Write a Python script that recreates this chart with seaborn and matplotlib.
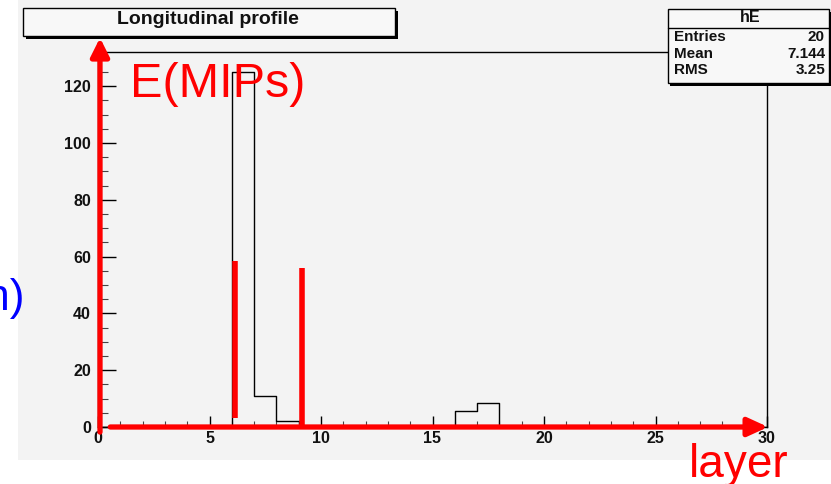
import matplotlib
matplotlib.use("Agg")
import matplotlib.pyplot as plt
import seaborn as sns
import numpy as np
from matplotlib.patches import Rectangle
from matplotlib.ticker import MultipleLocator

# ---- data ----
layers = list(range(30))
energy = [0, 0, 0, 0, 0, 0, 125, 11, 2, 0,
          0, 0, 0, 0, 0, 0, 5.5, 8.3, 0, 0,
          0, 0, 0, 0, 0, 0, 0, 0, 0, 0]
bin_edges = list(range(31))
marker_x = [6.15, 9.15]
marker_top = [58.5, 56]
marker_bottom = [3, 0]
stat_names = ["Entries", "Mean", "RMS"]
stat_values = ["20", "7.144", "3.25"]
hist_name = "hE"
title = "Longitudinal profile"
x_ticks = [0, 5, 10, 15, 20, 25, 30]
y_ticks = [0, 20, 40, 60, 80, 100, 120]

W, H = 831, 484
def fx(p): return p / W
def fy(p): return 1 - p / H

sns.set_style("white")
plt.rcParams['font.family'] = ['Liberation Sans', 'DejaVu Sans']

fig = plt.figure(figsize=(W / 100, H / 100), dpi=100)
fig.patch.set_facecolor("white")
# grey ROOT canvas
fig.add_artist(Rectangle((fx(18), fy(460)), fx(831) - fx(18), fy(0) - fy(460),
                         transform=fig.transFigure, facecolor="#f3f3f3",
                         edgecolor="none", zorder=0))

ax = fig.add_axes([fx(98), fy(427), fx(767) - fx(98), fy(52) - fy(427)])
ax.set_facecolor("none")
centers = [l + 0.5 for l in layers]
sns.histplot(x=centers, weights=energy, bins=bin_edges, element="step",
             fill=False, color="black", linewidth=1.0, ax=ax)
ax.set_xlim(0, 30)
ax.set_ylim(0, 132)
ax.set_xlabel("")
ax.set_ylabel("")
for s in ax.spines.values():
    s.set_color("black")
    s.set_linewidth(1.0)
    s.set_visible(True)

ax.set_xticks(x_ticks)
ax.set_yticks(y_ticks)
ax.xaxis.set_minor_locator(MultipleLocator(1))
ax.yaxis.set_minor_locator(MultipleLocator(5))
ax.tick_params(axis="x", which="major", direction="in", length=8, width=1,
               bottom=True, top=False, labelsize=11.5, pad=3, color="black")
ax.tick_params(axis="x", which="minor", direction="in", length=4, width=0.8,
               bottom=True, top=False, color="#444444")
ax.tick_params(axis="y", which="major", direction="in", length=13, width=1,
               left=True, right=False, labelsize=11.5, pad=5, color="black")
ax.tick_params(axis="y", which="minor", direction="in", length=7, width=0.8,
               left=True, right=False, color="#444444")
for lab in ax.get_xticklabels() + ax.get_yticklabels():
    lab.set_fontweight("bold")
    lab.set_color("#111111")

# red marker bars
ax.vlines(marker_x, marker_bottom, marker_top, colors="red", linewidth=4.0, zorder=5)

# red arrows
ax.annotate("", xy=(0.09, 137), xytext=(0.09, -1.8),
            arrowprops=dict(arrowstyle="-|>,head_length=1.1,head_width=0.55",
                            lw=3.8, color="red", shrinkA=0, shrinkB=0),
            annotation_clip=False, zorder=6)
ax.annotate("", xy=(30.05, 0), xytext=(0.55, 0),
            arrowprops=dict(arrowstyle="-|>,head_length=1.2,head_width=0.55",
                            lw=3.8, color="red", shrinkA=0, shrinkB=0),
            annotation_clip=False, zorder=6)

# title box with shadow
fig.add_artist(Rectangle((fx(26), fy(39)), fx(398) - fx(26), fy(11) - fy(39),
                         transform=fig.transFigure, facecolor="black",
                         edgecolor="none", zorder=7))
fig.add_artist(Rectangle((fx(23), fy(36)), fx(395) - fx(23), fy(8) - fy(36),
                         transform=fig.transFigure, facecolor="#f8f8f8",
                         edgecolor="black", linewidth=1.0, zorder=8))
fig.text(fx(208), fy(20), title, ha="center", va="center", fontsize=14,
         fontweight="bold", color="#111111", zorder=9)

# stats box with shadow
fig.add_artist(Rectangle((fx(670), fy(86)), fx(831) - fx(670), fy(12) - fy(86),
                         transform=fig.transFigure, facecolor="black",
                         edgecolor="none", zorder=7))
fig.add_artist(Rectangle((fx(668), fy(83)), fx(829) - fx(668), fy(9) - fy(83),
                         transform=fig.transFigure, facecolor="#f8f8f8",
                         edgecolor="black", linewidth=1.0, zorder=8))
fig.add_artist(plt.Line2D([fx(668), fx(829)], [fy(28), fy(28)],
                          transform=fig.transFigure, color="black", lw=1.0, zorder=9))
fig.text(fx(750), fy(18), hist_name, ha="center", va="center", fontsize=11.5,
         fontweight="bold", color="#111111", zorder=10)
row_y = [37, 54, 70]
for name, val, yy in zip(stat_names, stat_values, row_y):
    fig.text(fx(674), fy(yy), name, ha="left", va="center", fontsize=11,
             fontweight="bold", color="#111111", zorder=10)
    fig.text(fx(825), fy(yy), val, ha="right", va="center", fontsize=11,
             fontweight="bold", color="#111111", zorder=10)

# annotation texts
fig.text(fx(130), fy(97), "E(MIPs)", ha="left", va="baseline", fontsize=35,
         color="red", zorder=10)
fig.text(fx(689), fy(477), "layer", ha="left", va="baseline", fontsize=33,
         color="red", zorder=10)
fig.text(fx(24), fy(310), "n)", ha="right", va="baseline", fontsize=32,
         color="#0000ff", zorder=10)

fig.savefig("out.png", dpi=100)
